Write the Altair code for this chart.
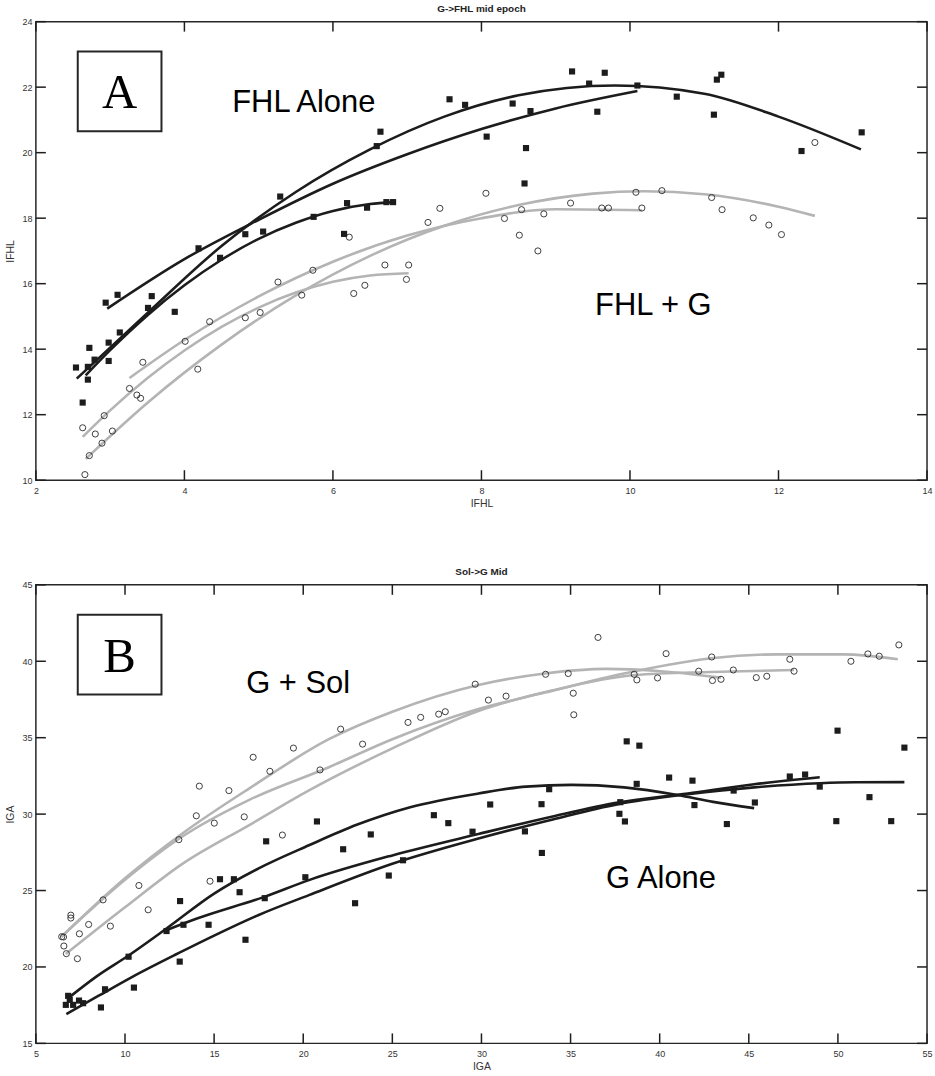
import altair as alt
import pandas as pd

# ---------------- Panel A data (G->FHL mid epoch) ----------------
a_sq_x = [2.54, 2.63, 2.72, 2.70, 2.70, 2.79, 2.94, 2.98, 2.98, 3.10, 3.13, 3.51, 3.56, 3.87, 4.19,
          4.48, 4.82, 5.06, 5.29, 5.74, 6.15, 6.19, 6.46, 6.72, 6.81, 6.59, 6.64, 7.57, 7.78, 8.07,
          8.42, 8.66, 8.60, 8.58, 9.22, 9.45, 9.66, 9.56, 10.10, 10.63, 11.13, 11.17, 11.23, 12.31, 13.12]
a_sq_y = [13.44, 12.37, 14.04, 13.07, 13.46, 13.68, 15.42, 13.64, 14.20, 15.66, 14.51, 15.26, 15.62, 15.14, 17.08,
          16.79, 17.51, 17.59, 18.66, 18.04, 17.52, 18.46, 18.32, 18.49, 18.49, 20.20, 20.64, 21.63, 21.46, 20.49,
          21.50, 21.27, 20.14, 19.06, 22.48, 22.11, 22.44, 21.25, 22.05, 21.71, 21.16, 22.23, 22.38, 20.05, 20.62]

a_ci_x = [2.63, 2.66, 2.72, 2.80, 2.89, 2.92, 3.03, 3.26, 3.36, 3.41, 3.44, 4.01, 4.18, 4.34, 4.82,
          5.02, 5.26, 5.58, 5.73, 6.22, 6.28, 6.43, 6.70, 6.99, 7.02, 7.28, 7.44, 8.06, 8.31, 8.51,
          8.54, 8.76, 8.84, 9.20, 9.62, 9.71, 10.08, 10.16, 10.43, 11.10, 11.24, 11.66, 11.87, 12.04, 12.49]
a_ci_y = [11.60, 10.17, 10.75, 11.41, 11.13, 11.97, 11.50, 12.80, 12.60, 12.50, 13.60, 14.24, 13.39, 14.84, 14.96,
          15.12, 16.05, 15.65, 16.41, 17.42, 15.70, 15.95, 16.57, 16.13, 16.57, 17.87, 18.30, 18.76, 17.99, 17.48,
          18.26, 17.00, 18.13, 18.46, 18.31, 18.31, 18.79, 18.31, 18.84, 18.63, 18.26, 18.01, 17.79, 17.50, 20.31]

# fitted curves
a_k1_x = [2.55, 3.5, 4.5, 5.5, 6.5, 7.5, 8.5, 9.8, 11.0, 12.0, 13.11]
a_k1_y = [13.1, 15.1, 17.15, 18.8, 20.1, 21.1, 21.75, 22.05, 21.8, 21.1, 20.1]
a_k2_x = [2.96, 4.0, 5.0, 6.0, 7.0, 8.0, 9.0, 10.1]
a_k2_y = [15.24, 16.75, 17.95, 19.05, 19.95, 20.72, 21.35, 21.88]
a_k3_x = [2.67, 3.0, 3.5, 4.0, 4.5, 5.0, 5.5, 6.0, 6.5, 6.81]
a_k3_y = [13.2, 13.97, 15.03, 15.95, 16.73, 17.37, 17.86, 18.22, 18.43, 18.49]

a_g1_x = [2.67, 3.5, 4.5, 5.5, 6.5, 7.5, 8.5, 9.5, 10.2, 11.0, 12.0, 12.49]
a_g1_y = [10.65, 12.36, 14.14, 15.64, 16.85, 17.77, 18.40, 18.75, 18.82, 18.73, 18.35, 18.07]
a_g2_x = [3.26, 4.0, 5.0, 6.0, 7.0, 8.0, 9.0, 10.16]
a_g2_y = [13.12, 14.28, 15.61, 16.67, 17.47, 18.0, 18.27, 18.24]
a_g3_x = [2.63, 3.0, 3.5, 4.0, 4.5, 5.0, 5.5, 6.0, 6.5, 7.02]
a_g3_y = [11.32, 12.13, 13.11, 13.96, 14.68, 15.27, 15.73, 16.06, 16.25, 16.32]

a_xticks = [2, 4, 6, 8, 10, 12, 14]
a_yticks = [10, 12, 14, 16, 18, 20, 22, 24]

# ---------------- Panel B data (Sol->G Mid) ----------------
b_sq_x = [6.68, 6.81, 6.90, 7.09, 7.42, 7.65, 8.65, 8.88, 10.2, 10.5, 12.33, 13.07, 13.09, 13.28, 14.69,
          15.33, 16.11, 16.43, 16.76, 17.84, 17.92, 20.12, 20.77, 22.24, 22.91, 23.79, 24.80, 25.60, 27.33, 28.14,
          29.50, 30.49, 32.44, 33.37, 33.39, 33.80, 37.74, 37.79, 38.05, 38.15, 38.86, 38.71, 40.53, 41.84, 41.95,
          43.77, 44.15, 45.34, 47.30, 48.16, 48.98, 49.91, 49.98, 51.77, 52.99, 53.73]
b_sq_y = [17.52, 18.11, 17.85, 17.52, 17.80, 17.63, 17.35, 18.54, 20.67, 18.65, 22.35, 20.35, 24.31, 22.76, 22.76,
          25.74, 25.74, 24.89, 21.78, 24.50, 28.22, 25.87, 29.52, 27.70, 24.17, 28.67, 25.98, 26.98, 29.93, 29.41,
          28.85, 30.63, 28.87, 30.65, 27.46, 31.63, 30.02, 30.78, 29.52, 34.76, 34.48, 31.98, 32.39, 32.19, 30.59,
          29.35, 31.54, 30.76, 32.46, 32.59, 31.80, 29.54, 35.46, 31.11, 29.54, 34.35]

b_ci_x = [6.45, 6.55, 6.57, 6.71, 6.96, 6.96, 7.33, 7.44, 7.96, 8.77, 9.18, 10.78, 11.30, 13.02, 14.00,
          14.17, 14.77, 15.01, 15.83, 16.69, 17.19, 18.13, 18.83, 19.45, 20.94, 22.10, 23.33, 25.88, 26.59, 27.60,
          27.97, 29.65, 30.39, 31.38, 33.6, 34.87, 35.15, 35.18, 36.54, 38.57, 38.72, 39.88, 40.36, 42.19, 42.92,
          42.96, 43.44, 44.13, 45.42, 46.01, 47.30, 47.54, 50.73, 51.68, 52.32, 53.42]
b_ci_y = [21.98, 21.96, 21.37, 20.87, 23.39, 23.20, 20.54, 22.17, 22.78, 24.39, 22.67, 25.33, 23.74, 28.33, 29.89,
          31.83, 25.61, 29.41, 31.54, 29.82, 33.72, 32.80, 28.63, 34.32, 32.89, 35.56, 34.58, 36.0, 36.33, 36.54,
          36.70, 38.50, 37.46, 37.72, 39.15, 39.20, 37.91, 36.50, 41.56, 39.15, 38.78, 38.91, 40.5, 39.35, 40.28,
          38.74, 38.82, 39.43, 38.93, 39.02, 40.13, 39.35, 40.0, 40.48, 40.33, 41.07]

b_k1_x = [6.81, 8.39, 10.2, 12.31, 15, 17.5, 20.32, 23, 26, 29.83, 32.5, 35.05, 38, 41, 43, 45.3]
b_k1_y = [17.96, 19.37, 20.75, 22.5, 24.8, 26.45, 27.96, 29.3, 30.45, 31.35, 31.8, 31.91, 31.75, 31.25, 30.8, 30.39]
b_k2_x = [12.31, 14, 17.85, 20.32, 25, 29.83, 34, 37.66, 41.58, 45.3, 48.98]
b_k2_y = [22.4, 23.15, 24.6, 25.68, 27.3, 28.7, 29.85, 30.75, 31.35, 31.95, 32.41]
b_k3_x = [6.71, 8.5, 10.44, 13, 15, 17.5, 20.32, 25, 29.83, 34, 37.66, 41.58, 45.3, 48.98, 51, 53.73]
b_k3_y = [16.91, 18.1, 19.37, 20.9, 22.05, 23.4, 24.7, 26.75, 28.4, 29.65, 30.65, 31.3, 31.75, 32.02, 32.08, 32.09]

b_g1_x = [6.44, 10, 13.24, 17, 21.44, 25, 29.83, 33.56, 38, 42.88, 46.61, 50.34, 53.36]
b_g1_y = [21.98, 25.7, 28.55, 30.95, 33.07, 34.9, 36.87, 37.95, 39.2, 40.2, 40.45, 40.45, 40.13]
b_g2_x = [6.68, 10, 13.24, 17, 20.32, 25, 29.83, 34, 38.6, 42.88, 47.54]
b_g2_y = [20.85, 23.9, 26.76, 29.3, 31.55, 34.3, 36.75, 38.1, 39.1, 39.3, 39.43]
b_g3_x = [6.44, 10, 13.24, 17, 21.44, 25, 29.83, 33.56, 37, 40.08, 43.44]
b_g3_y = [21.98, 25.8, 28.75, 31.7, 34.9, 36.7, 38.45, 39.2, 39.5, 39.35, 38.93]

b_xticks = [5, 10, 15, 20, 25, 30, 35, 40, 45, 50, 55]
b_yticks = [15, 20, 25, 30, 35, 40, 45]

W, H = 894, 460
TICK = 10
DARK = "#1c1c1c"
GREY = "#b4b4b4"
FONT = "Liberation Sans"


def curves_df(curves):
    rows = []
    for cid, xs, ys in curves:
        for x, y in zip(xs, ys):
            rows.append({"curve": cid, "x": x, "y": y})
    return pd.DataFrame(rows)


def panel(sq_x, sq_y, ci_x, ci_y, black, grey, xdom, ydom, xticks, yticks,
          xtitle, ytitle, title, letter, label1, label1_pos, label2, label2_pos):
    xs = alt.Scale(domain=xdom, nice=False, zero=False)
    ys = alt.Scale(domain=ydom, nice=False, zero=False)
    xaxis = alt.Axis(values=xticks, title=xtitle, ticks=False, tickSize=0, domain=False, grid=False,
                     labelPadding=6, titlePadding=3, format="d", labelFlush=False)
    yaxis = alt.Axis(values=yticks, title=ytitle, ticks=False, tickSize=0, domain=False, grid=False,
                     labelPadding=4, titlePadding=6, format="d", labelFlush=False)

    def X(f):
        return alt.X(f"{f}:Q", scale=xs, axis=xaxis)

    def Y(f):
        return alt.Y(f"{f}:Q", scale=ys, axis=yaxis)

    xt = pd.DataFrame({"t": xticks})
    yt = pd.DataFrame({"t": yticks})
    tick_bottom = alt.Chart(xt).mark_rule(color="#1e1e1e", strokeWidth=1.5).encode(
        x=X("t"), y=alt.value(H - TICK), y2=alt.value(H))
    tick_top = alt.Chart(xt).mark_rule(color="#1e1e1e", strokeWidth=1.5).encode(
        x=X("t"), y=alt.value(0), y2=alt.value(TICK))
    tick_left = alt.Chart(yt).mark_rule(color="#1e1e1e", strokeWidth=1.5).encode(
        y=Y("t"), x=alt.value(0), x2=alt.value(TICK))
    tick_right = alt.Chart(yt).mark_rule(color="#1e1e1e", strokeWidth=1.5).encode(
        y=Y("t"), x=alt.value(W - TICK), x2=alt.value(W))

    grey_lines = alt.Chart(curves_df(grey)).mark_line(
        color=GREY, strokeWidth=2.6, interpolate="monotone").encode(x=X("x"), y=Y("y"), detail="curve:N")
    black_lines = alt.Chart(curves_df(black)).mark_line(
        color=DARK, strokeWidth=2.6, interpolate="monotone").encode(x=X("x"), y=Y("y"), detail="curve:N")

    circles = alt.Chart(pd.DataFrame({"x": ci_x, "y": ci_y})).mark_point(
        shape="circle", filled=False, size=38, stroke="#2a2a2a", strokeWidth=0.9, opacity=1).encode(
        x=X("x"), y=Y("y"))
    squares = alt.Chart(pd.DataFrame({"x": sq_x, "y": sq_y})).mark_square(
        size=38, color=DARK, opacity=1).encode(x=X("x"), y=Y("y"))

    box = alt.Chart(pd.DataFrame({"a": [0]})).mark_rect(
        fill="white", stroke="#262626", strokeWidth=2).encode(
        x=alt.value(42), x2=alt.value(126), y=alt.value(30), y2=alt.value(110))
    letter_t = alt.Chart(pd.DataFrame({"t": [letter]})).mark_text(
        font="Liberation Serif", fontSize=49, align="center", baseline="alphabetic", color="#000").encode(
        text="t:N", x=alt.value(84), y=alt.value(87))
    lab1 = alt.Chart(pd.DataFrame({"t": [label1]})).mark_text(
        font=FONT, fontSize=31, align="left", baseline="alphabetic", color="#000").encode(
        text="t:N", x=alt.value(label1_pos[0]), y=alt.value(label1_pos[1]))
    lab2 = alt.Chart(pd.DataFrame({"t": [label2]})).mark_text(
        font=FONT, fontSize=31, align="left", baseline="alphabetic", color="#000").encode(
        text="t:N", x=alt.value(label2_pos[0]), y=alt.value(label2_pos[1]))

    return alt.layer(
        grey_lines, black_lines, circles, squares,
        box, letter_t, lab1, lab2,
        tick_bottom, tick_top, tick_left, tick_right,
    ).properties(
        width=W, height=H,
        title=alt.TitleParams(title, fontSize=10, fontWeight="bold", font=FONT, offset=4,
                              anchor="middle", color="#222"),
    )


panel_a = panel(
    a_sq_x, a_sq_y, a_ci_x, a_ci_y,
    [("k1", a_k1_x, a_k1_y), ("k2", a_k2_x, a_k2_y), ("k3", a_k3_x, a_k3_y)],
    [("g1", a_g1_x, a_g1_y), ("g2", a_g2_x, a_g2_y), ("g3", a_g3_x, a_g3_y)],
    [2, 14], [10, 24], a_xticks, a_yticks, "IFHL", "IFHL", "G->FHL mid epoch", "A",
    "FHL Alone", (197, 91), "FHL + G", (561, 294),
)

panel_b = panel(
    b_sq_x, b_sq_y, b_ci_x, b_ci_y,
    [("k1", b_k1_x, b_k1_y), ("k2", b_k2_x, b_k2_y), ("k3", b_k3_x, b_k3_y)],
    [("g1", b_g1_x, b_g1_y), ("g2", b_g2_x, b_g2_y), ("g3", b_g3_x, b_g3_y)],
    [5, 55], [15, 45], b_xticks, b_yticks, "IGA", "IGA", "Sol->G Mid", "B",
    "G + Sol", (211, 109), "G Alone", (572, 304),
)

chart = alt.vconcat(panel_a, panel_b, spacing=56).resolve_scale(
    x="independent", y="independent"
).properties(
    padding={"left": 5, "top": 1, "right": 2, "bottom": 0},
    background="white",
).configure_view(
    stroke="#262626", strokeWidth=1.5
).configure_axis(
    labelFont=FONT, labelFontSize=9, labelColor="#333",
    titleFont=FONT, titleFontSize=10.5, titleFontWeight="normal", titleColor="#333",
)

chart.save("out.html", embed_options={"renderer": "svg", "actions": False})
